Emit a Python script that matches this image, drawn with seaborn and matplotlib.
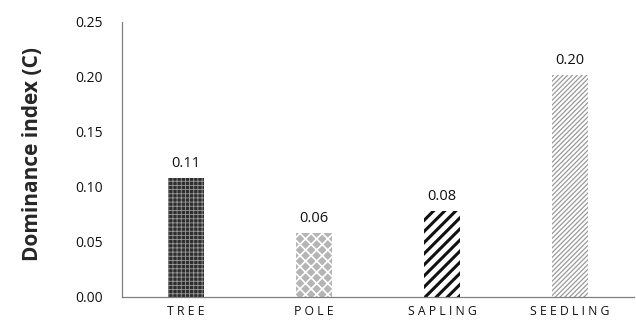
import matplotlib
matplotlib.use('Agg')
import matplotlib.pyplot as plt
import seaborn as sns
import pandas as pd

# данные
categories = ['TREE', 'POLE', 'SAPLING', 'SEEDLING']
dominance = [0.108, 0.058, 0.078, 0.202]
labels = ['0.11', '0.06', '0.08', '0.20']
y_ticks = [0.00, 0.05, 0.10, 0.15, 0.20, 0.25]

sns.set_theme(style='white')
plt.rcParams['font.family'] = ['Open Sans', 'DejaVu Sans']

df = pd.DataFrame({'stage': categories, 'C': dominance})

fig = plt.figure(figsize=(6.36, 3.23), dpi=100)
ax = fig.add_axes([0.192, 0.081, 0.805, 0.851])

sns.barplot(data=df, x='stage', y='C', ax=ax, width=0.28, color='white')

# штриховки для каждого столбца
styles = [
    ('#2e2e2e', '#9a9a9a', '++++', 0.6),
    ('#b5b5b5', '#ffffff', 'xxx', 1.2),
    ('#ffffff', '#111111', '///', 2.2),
    ('#ffffff', '#9a9a9a', '///////', 0.9),
]
for patch, (fc, hc, h, lw) in zip(ax.patches, styles):
    patch.set_facecolor(fc)
    patch.set_edgecolor(hc)
    patch.set_hatch(h)
    patch.set_linewidth(0)
    if hasattr(patch, 'set_hatch_linewidth'):
        patch.set_hatch_linewidth(lw)

ax.bar_label(ax.containers[0], labels=labels, padding=5, fontsize=10.5, color='#111111')

ax.set_ylim(0, 0.25)
ax.set_yticks(y_ticks)
ax.set_yticklabels([f'{t:.2f}' for t in y_ticks])
ax.set_xlim(-0.5, 3.5)
ax.set_xticks(range(len(categories)))
ax.set_xticklabels([' '.join(c) for c in categories], fontsize=8.8)
ax.tick_params(axis='y', length=0, pad=14, labelsize=10, colors='#111111')
ax.tick_params(axis='x', length=0, pad=6, colors='#111111')

ax.set_xlabel('')
ax.set_ylabel('Dominance index (C)', fontsize=15, fontweight='bold')
ax.yaxis.set_label_coords(-0.155, 0.52)

for s in ['top', 'right']:
    ax.spines[s].set_visible(False)
for s in ['left', 'bottom']:
    ax.spines[s].set_color('#7f7f7f')
    ax.spines[s].set_linewidth(0.9)

fig.savefig('out.png', dpi=100)
